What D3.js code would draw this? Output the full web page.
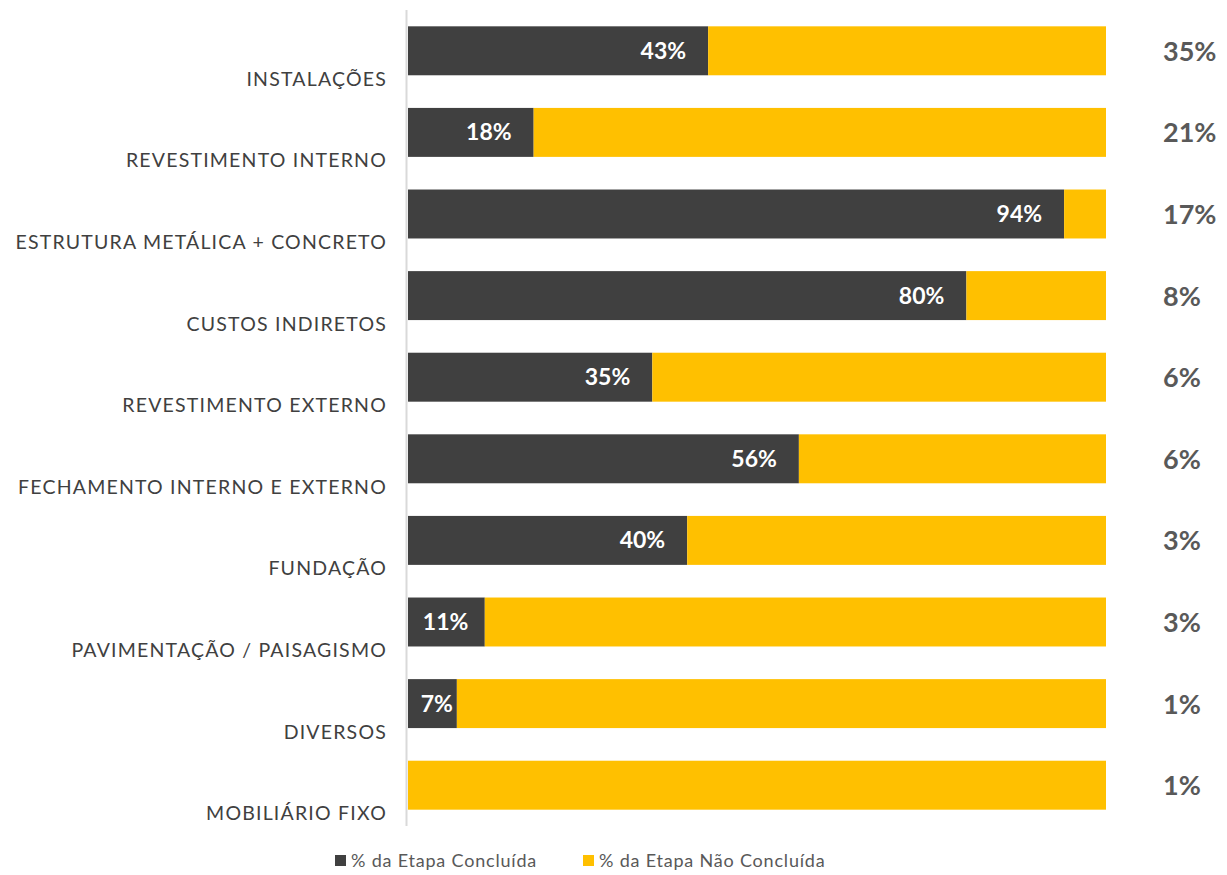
<!DOCTYPE html>
<html>
<head>
<meta charset="utf-8">
<script src="https://cdn.jsdelivr.net/npm/d3@7"></script>
<style>
  body { margin: 0; background: #fff; }
  text { font-family: Lato, "Open Sans", sans-serif; }
</style>
</head>
<body>
<script>
const categories = ["INSTALAÇÕES", "REVESTIMENTO INTERNO", "ESTRUTURA METÁLICA + CONCRETO", "CUSTOS INDIRETOS",
  "REVESTIMENTO EXTERNO", "FECHAMENTO INTERNO E EXTERNO", "FUNDAÇÃO", "PAVIMENTAÇÃO / PAISAGISMO",
  "DIVERSOS", "MOBILIÁRIO FIXO"];
const done = [43, 18, 94, 80, 35, 56, 40, 11, 7, 0];
const notDone = done.map(d => 100 - d);
const weight = [35, 21, 17, 8, 6, 6, 3, 3, 1, 1];
const seriesNames = ["% da Etapa Concluída", "% da Etapa Não Concluída"];
const colors = ["#404040", "#FFC000"];

const width = 1227, height = 875;
const svg = d3.select("body").append("svg")
    .attr("width", width)
    .attr("height", height);

const x = d3.scaleLinear().domain([0, 100]).range([408, 1106]);
const y = d3.scaleBand().domain(categories).range([10, 826]).paddingInner(0.4).paddingOuter(0.2);

const rows = categories.map((c, i) => ({cat: c, done: done[i], notDone: notDone[i], weight: weight[i]}));
const stack = d3.stack().keys(["done", "notDone"])(rows);

svg.selectAll("g.series")
    .data(stack)
    .enter()
    .append("g")
    .attr("fill", (d, i) => colors[i])
    .selectAll("rect")
    .data(d => d)
    .enter()
    .append("rect")
    .attr("x", d => x(d[0]))
    .attr("y", d => y(d.data.cat))
    .attr("width", d => x(d[1]) - x(d[0]))
    .attr("height", y.bandwidth());

// vertical axis line
svg.append("line")
    .attr("x1", 406.5).attr("x2", 406.5)
    .attr("y1", 10).attr("y2", 826)
    .attr("stroke", "#d9d9d9")
    .attr("stroke-width", 2);

// category labels, sitting low in each band
svg.selectAll("text.cat")
    .data(categories)
    .enter()
    .append("text")
    .attr("class", "cat")
    .attr("x", 387)
    .attr("y", d => y(d) + y.bandwidth() / 2 + 35)
    .attr("text-anchor", "end")
    .attr("fill", "#404040")
    .attr("font-size", 19.5)
    .attr("letter-spacing", 1.2)
    .text(d => d);

// completed % labels inside dark bars
svg.selectAll("text.val")
    .data(rows.filter(d => d.done > 0))
    .enter()
    .append("text")
    .attr("class", "val")
    .attr("x", d => {
        const w = x(d.done) - x(0);
        const pad = Math.min(22, Math.max(4, (w - 44) / 2));
        return x(d.done) - pad;
    })
    .attr("y", d => y(d.cat) + y.bandwidth() / 2 + 8)
    .attr("text-anchor", "end")
    .attr("fill", "#fff")
    .attr("font-weight", "bold")
    .attr("font-size", 23)
    .text(d => d.done + "%");

// weight labels on the right
svg.selectAll("text.weight")
    .data(rows)
    .enter()
    .append("text")
    .attr("class", "weight")
    .attr("x", 1163)
    .attr("y", d => y(d.cat) + y.bandwidth() / 2 + 10)
    .attr("fill", "#595959")
    .attr("font-weight", "bold")
    .attr("font-family", "'Open Sans', sans-serif")
    .attr("font-size", 27)
    .text(d => d.weight + "%");

// legend
const legend = svg.append("g").attr("transform", "translate(335, 855)");
const legendX = [0, 248];
seriesNames.forEach((name, i) => {
    const g = legend.append("g").attr("transform", `translate(${legendX[i]}, 0)`);
    g.append("rect").attr("width", 11).attr("height", 11).attr("fill", colors[i]);
    g.append("text")
        .attr("x", 16).attr("y", 12)
        .attr("fill", "#595959")
        .attr("font-size", 18)
        .attr("letter-spacing", 0.8)
        .text(name);
});
</script>
</body>
</html>
